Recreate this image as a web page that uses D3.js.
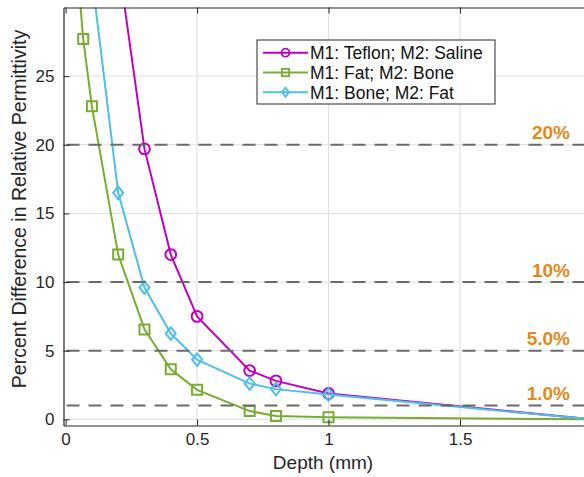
<!DOCTYPE html>
<html>
<head>
<meta charset="utf-8">
<script src="https://cdn.jsdelivr.net/npm/d3@7"></script>
<style>
  body { margin: 0; background: #fff; }
  svg { display: block; font-family: 'Liberation Sans', Arial, sans-serif; }
  .axis path, .axis line { stroke: #262626; }
  .axis text { fill: #262626; font-size: 17px; }
</style>
</head>
<body>
<script>
// series (depth in mm, percent difference)
const tefDepth = [0.2, 0.3, 0.4, 0.5, 0.7, 0.8, 1.0, 2.0]
const tefVals = [33.4, 19.7, 12.0, 7.5, 3.55, 2.8, 1.88, 0]
const fatDepth = [0.05, 0.067, 0.1, 0.2, 0.3, 0.4, 0.5, 0.7, 0.8, 1.0, 2.0]
const fatVals = [31.6, 27.7, 22.8, 12.0, 6.55, 3.65, 2.15, 0.6, 0.25, 0.15, 0]
const boneDepth = [0.1, 0.2, 0.3, 0.4, 0.5, 0.7, 0.8, 1.0, 2.0]
const boneVals = [32.2, 16.5, 9.6, 6.25, 4.35, 2.6, 2.2, 1.8, 0]

const seriesNames = ['M1: Teflon; M2: Saline', 'M1: Fat; M2: Bone', 'M1: Bone; M2: Fat']
const thresholds = [20, 10, 5, 1]
const thresholdLabels = ['20%', '10%', '5.0%', '1.0%']
const xTicks = [0, 0.5, 1, 1.5]
const yTicks = [0, 5, 10, 15, 20, 25]

const series = [
  { name: seriesNames[0], color: '#C000C0', marker: 'circle', pts: tefDepth.map((d, i) => ({ x: d, y: tefVals[i] })) },
  { name: seriesNames[1], color: '#77AC30', marker: 'square', pts: fatDepth.map((d, i) => ({ x: d, y: fatVals[i] })) },
  { name: seriesNames[2], color: '#4DBEEE', marker: 'diamond', pts: boneDepth.map((d, i) => ({ x: d, y: boneVals[i] })) }
]

const W = 584, H = 477
const pLeft = 63.5, pRight = 591.5, pTop = 7.5, pBottom = 425.5

const svg = d3.select('body').append('svg').attr('width', W).attr('height', H)

const x = d3.scaleLinear().domain([-0.008, 2]).range([pLeft, pRight])
const y = d3.scaleLinear().domain([-0.45, 30]).range([pBottom, pTop])

svg.append('clipPath').attr('id', 'plotClip')
  .append('rect').attr('x', pLeft).attr('y', pTop).attr('width', pRight - pLeft).attr('height', pBottom - pTop)

// grid
const grid = svg.append('g').attr('stroke', '#dedede').attr('stroke-width', 1)
grid.selectAll('.gx').data(xTicks.filter(t => t > 0)).enter().append('line')
  .attr('x1', d => x(d)).attr('x2', d => x(d)).attr('y1', pTop).attr('y2', pBottom)
grid.selectAll('.gy').data(yTicks).enter().append('line')
  .attr('x1', pLeft).attr('x2', pRight).attr('y1', d => y(d)).attr('y2', d => y(d))

const plot = svg.append('g').attr('clip-path', 'url(#plotClip)')

const line = d3.line().x(d => x(d.x)).y(d => y(d.y))

const markerPath = (type, s) => {
  if (type === 'circle') return d3.symbol(d3.symbolCircle, Math.PI * (s + 0.4) * (s + 0.4))()
  if (type === 'square') return `M${-s},${-s}H${s}V${s}H${-s}Z`
  return `M0,${-s * 1.25}L${s},0L0,${s * 1.25}L${-s},0Z`
}

series.forEach(s => {
  const g = plot.append('g')
  g.append('path').datum(s.pts)
    .attr('d', line).attr('fill', 'none')
    .attr('stroke', s.color).attr('stroke-width', 2)
  g.selectAll('.mk').data(s.pts).enter().append('path')
    .attr('transform', d => `translate(${x(d.x)},${y(d.y)})`)
    .attr('d', markerPath(s.marker, 5))
    .attr('fill', 'none').attr('stroke', s.color).attr('stroke-width', 2)
})

// threshold lines
plot.selectAll('.thr').data(thresholds).enter().append('line')
  .attr('x1', pLeft + 3).attr('x2', pRight)
  .attr('y1', d => y(d)).attr('y2', d => y(d))
  .attr('stroke', '#6b6b6b').attr('stroke-width', 2)
  .attr('stroke-dasharray', '13,9')

svg.selectAll('.thrLabel').data(thresholds).enter().append('text')
  .attr('x', 570).attr('y', d => y(d) - 5.5)
  .attr('text-anchor', 'end')
  .attr('fill', '#E3891B').attr('font-weight', 'bold').attr('font-size', '19px')
  .text((d, i) => thresholdLabels[i])

// axes (the 2.0 tick sits past the right edge of the picture)
const xAxis = d3.axisBottom(x).tickValues(xTicks).tickFormat(d3.format('')).tickSizeInner(-6).tickSizeOuter(0).tickPadding(7)
const yAxis = d3.axisLeft(y).tickValues(yTicks).tickSizeInner(-6).tickSizeOuter(0).tickPadding(9)

svg.append('g').attr('class', 'axis x').attr('transform', `translate(0,${pBottom})`).call(xAxis)
svg.append('g').attr('class', 'axis y').attr('transform', `translate(${pLeft},0)`).call(yAxis)
svg.append('g').attr('class', 'axis top').attr('transform', `translate(0,${pTop})`)
  .call(d3.axisTop(x).tickValues(xTicks).tickSizeInner(-6).tickSizeOuter(0).tickFormat(''))
svg.selectAll('.axis .domain').attr('stroke-width', 1.2)

svg.append('text')
  .attr('x', 323).attr('y', 469)
  .attr('text-anchor', 'middle').attr('font-size', '19px').attr('fill', '#262626')
  .text('Depth (mm)')

svg.append('text')
  .attr('transform', 'translate(26,209) rotate(-90)')
  .attr('text-anchor', 'middle').attr('font-size', '19.5px').attr('fill', '#262626')
  .text('Percent Difference in Relative Permittivity')

// legend
const legend = svg.append('g')
legend.append('rect')
  .attr('x', 257).attr('y', 40).attr('width', 238).attr('height', 64)
  .attr('fill', '#fff').attr('stroke', '#262626').attr('stroke-width', 1)

const rows = legend.selectAll('.row').data(series).enter().append('g')
  .attr('transform', (d, i) => `translate(0,${52.7 + i * 19.8})`)
rows.append('line').attr('x1', 263).attr('x2', 308)
  .attr('stroke', d => d.color).attr('stroke-width', 2)
rows.append('path')
  .attr('transform', 'translate(285.5,0)')
  .attr('d', d => markerPath(d.marker, 3.6))
  .attr('fill', 'none').attr('stroke', d => d.color).attr('stroke-width', 1.8)
rows.append('text')
  .attr('x', 310).attr('dy', '0.36em')
  .attr('font-size', '17.5px').attr('fill', '#111')
  .text(d => d.name)
</script>
</body>
</html>
